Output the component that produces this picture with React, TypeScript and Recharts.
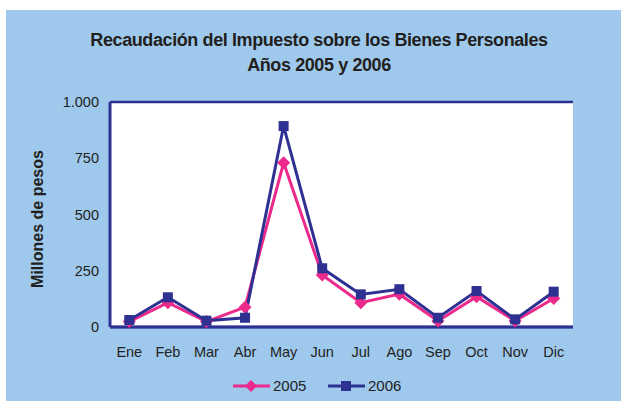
import React from 'react'
import {
    LineChart,
    Line,
    XAxis,
    YAxis,
    CartesianGrid,
} from 'recharts'

const months = ['Ene', 'Feb', 'Mar', 'Abr', 'May', 'Jun', 'Jul', 'Ago', 'Sep', 'Oct', 'Nov', 'Dic']
const values2005 = [24, 108, 24, 88, 730, 231, 108, 146, 27, 135, 27, 127]
const values2006 = [31, 132, 28, 41, 893, 261, 145, 168, 41, 160, 34, 157]
const yTicks = [0, 250, 500, 750, 1000]
const seriesNames = ['2005', '2006']

const data = months.map((m, i) => ({ month: m, y2005: values2005[i], y2006: values2006[i] }))

const BLUE = '#2E3192'
const PINK = '#EC2A8C'
const BG = '#9FC9EC'
const FONT = '"Liberation Sans", Arial, sans-serif'

const Diamond = (props: any) => {
    const { cx, cy } = props
    if (cx == null || cy == null) return null
    const r = 6.5
    return (
        <polygon
            key={`d-${cx}`}
            points={`${cx},${cy - r} ${cx + r},${cy} ${cx},${cy + r} ${cx - r},${cy}`}
            fill={PINK}
        />
    )
}

const Square = (props: any) => {
    const { cx, cy } = props
    if (cx == null || cy == null) return null
    const s = 10
    return <rect key={`s-${cx}`} x={cx - s / 2} y={cy - s / 2} width={s} height={s} fill={BLUE} />
}

const LegendBox = () => {
    const items = [
        { name: seriesNames[0], color: PINK, shape: 'diamond' },
        { name: seriesNames[1], color: BLUE, shape: 'square' },
    ]
    return (
        <svg width={200} height={20} style={{ position: 'absolute', left: 227, top: 366 }}>
            {items.map((it, i) => {
                const x0 = i * 95
                const cx = x0 + 18
                return (
                    <g key={it.name}>
                        <line x1={x0} x2={x0 + 37} y1={10} y2={10} stroke={it.color} strokeWidth={3} />
                        {it.shape === 'diamond' ? (
                            <polygon points={`${cx},4 ${cx + 6},10 ${cx},16 ${cx - 6},10`} fill={it.color} />
                        ) : (
                            <rect x={cx - 5} y={5} width={10} height={10} fill={it.color} />
                        )}
                        <text x={x0 + 40} y={15} fontSize={15} fill="#222" fontFamily={FONT}>
                            {it.name}
                        </text>
                    </g>
                )
            })}
        </svg>
    )
}

export default function App() {
    return (
        <div style={{ position: 'absolute', left: 0, top: 0, width: 621, height: 401, background: '#fff' }}>
            <div
                style={{
                    position: 'absolute',
                    left: 6,
                    top: 10,
                    width: 615,
                    height: 391,
                    background: BG,
                    fontFamily: FONT,
                }}
            >
                <div
                    style={{
                        position: 'absolute',
                        left: 0,
                        top: 18,
                        width: 626,
                        textAlign: 'center',
                        fontWeight: 'bold',
                        fontSize: 18,
                        lineHeight: '25px',
                        color: '#231F20',
                        letterSpacing: -0.4,
                    }}
                >
                    Recaudación del Impuesto sobre los Bienes Personales
                    <br />
                    Años 2005 y 2006
                </div>
                <div
                    style={{
                        position: 'absolute',
                        left: 32,
                        top: 209,
                        transform: 'translate(-50%, -50%) rotate(-90deg)',
                        whiteSpace: 'nowrap',
                        fontWeight: 'bold',
                        fontSize: 16,
                        color: '#231F20',
                    }}
                >
                    Millones de pesos
                </div>
                <LineChart
                    width={615}
                    height={391}
                    data={data}
                    margin={{ top: 92, right: 48, bottom: 44, left: 0 }}
                    style={{ position: 'absolute', left: 0, top: 0 }}
                >
                    <CartesianGrid
                        vertical={false}
                        stroke={BLUE}
                        strokeWidth={2.5}
                        fill="#fff"
                        strokeOpacity={1}
                    />
                    <XAxis
                        dataKey="month"
                        scale="band"
                        height={30}
                        tickLine={false}
                        axisLine={{ stroke: BLUE, strokeWidth: 3 }}
                        tick={{ fill: '#222', fontSize: 14.5, fontFamily: FONT }}
                        tickMargin={14}
                        interval={0}
                    />
                    <YAxis
                        yAxisId="left"
                        width={104}
                        domain={[0, 1000]}
                        ticks={yTicks}
                        tickLine={false}
                        axisLine={{ stroke: BLUE, strokeWidth: 3 }}
                        tick={{ fill: '#222', fontSize: 14.5, fontFamily: FONT }}
                        tickMargin={5}
                        tickFormatter={(v: number) => (v === 1000 ? '1.000' : String(v))}
                    />
                    <YAxis
                        yAxisId="right"
                        orientation="right"
                        width={0}
                        domain={[0, 1000]}
                        tick={false}
                        tickLine={false}
                        axisLine={{ stroke: BLUE, strokeWidth: 3 }}
                    />
                    <Line
                        yAxisId="left"
                        type="linear"
                        dataKey="y2005"
                        stroke={PINK}
                        strokeWidth={3}
                        dot={Diamond}
                        activeDot={false}
                        isAnimationActive={false}
                    />
                    <Line
                        yAxisId="left"
                        type="linear"
                        dataKey="y2006"
                        stroke={BLUE}
                        strokeWidth={3}
                        dot={Square}
                        activeDot={false}
                        isAnimationActive={false}
                    />
                </LineChart>
                <LegendBox />
            </div>
        </div>
    )
}
